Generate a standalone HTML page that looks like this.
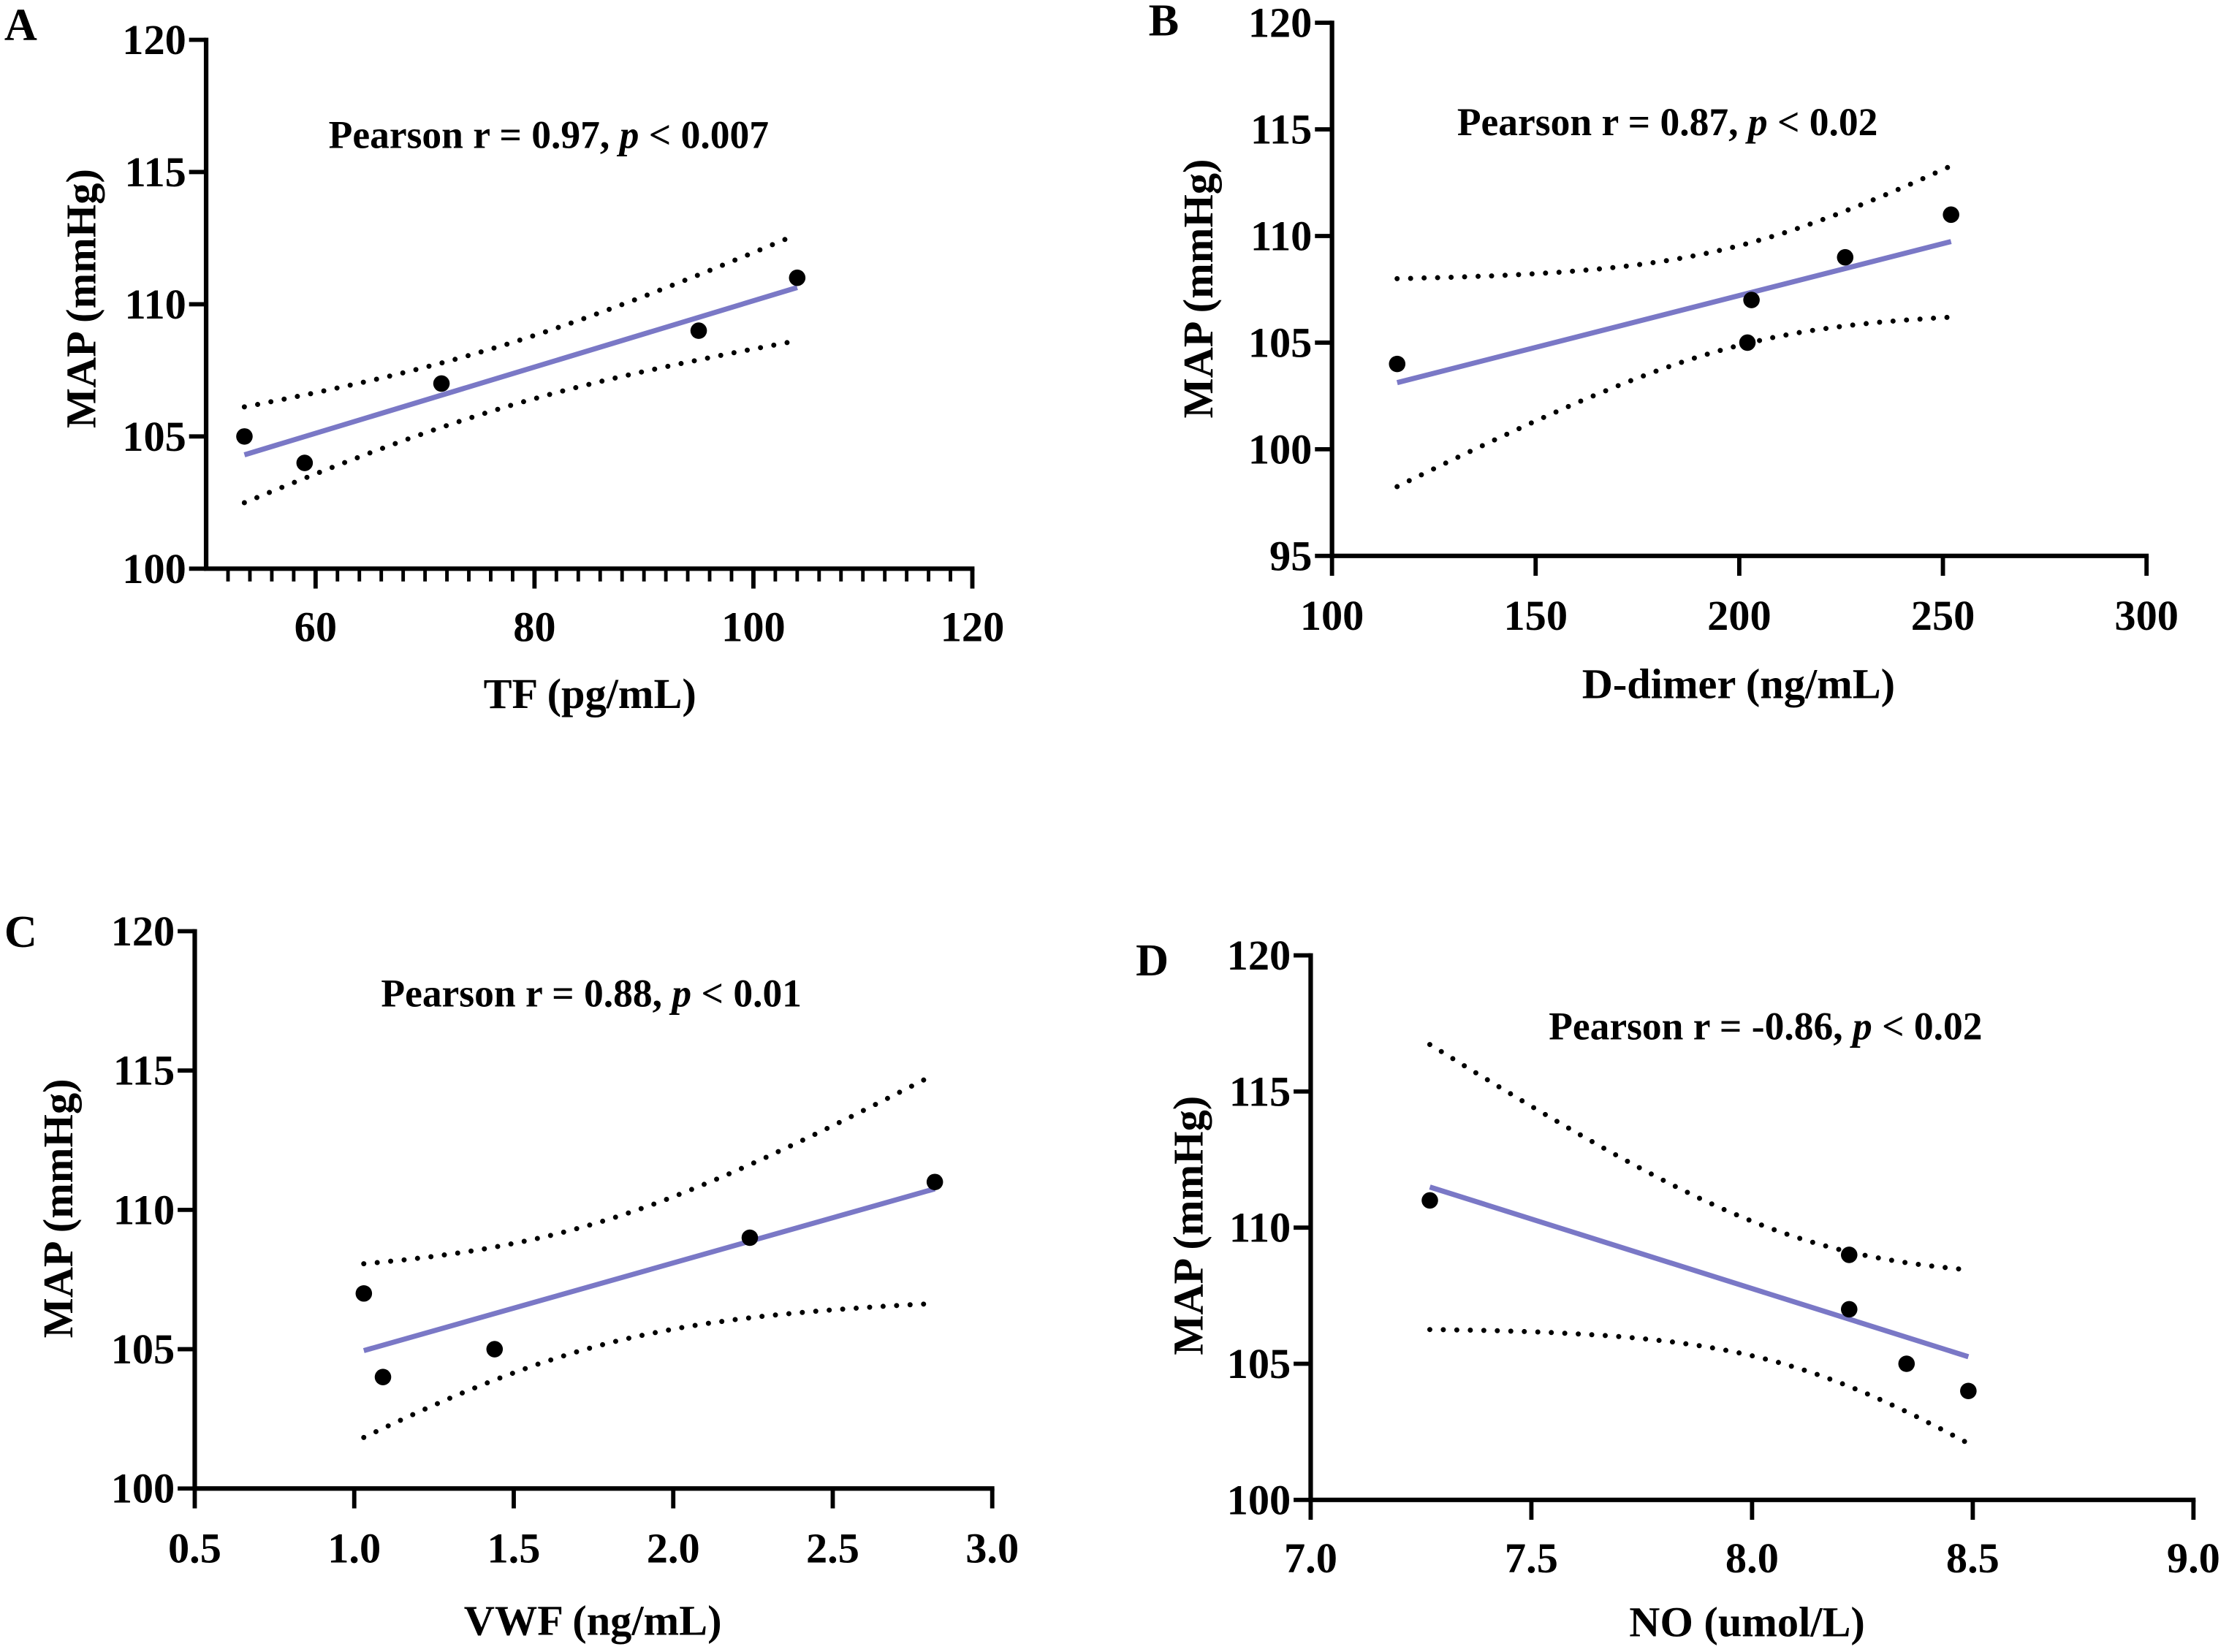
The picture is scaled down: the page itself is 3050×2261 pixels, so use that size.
<!DOCTYPE html>
<html><head><meta charset="utf-8"><style>
html,body{margin:0;padding:0;background:#fff;}
svg{display:block;}
text{font-family:"Liberation Serif",serif;font-weight:bold;fill:#000;}
</style></head><body>
<svg id="fig" width="3050" height="2261" viewBox="0 0 1568 1162" preserveAspectRatio="none" xmlns="http://www.w3.org/2000/svg"></svg>
<script>
// Panel A data
const aX=[53.5,59,71.5,95,104];
const aY=[105,104,107,109,111];
const aXTicks=[60,80,100,120];
const aYTicks=[100,105,110,115,120];
// Panel B data
const bX=[116,202,203,226,252];
const bY=[104,105,107,109,111];
const bXTicks=[100,150,200,250,300];
const bYTicks=[95,100,105,110,115,120];
// Panel C data
const cX=[1.03,1.09,1.44,2.24,2.82];
const cY=[107,104,105,109,111];
const cXTicks=[0.5,1.0,1.5,2.0,2.5,3.0];
const cYTicks=[100,105,110,115,120];
// Panel D data
const dX=[7.27,8.22,8.22,8.35,8.49];
const dY=[111,109,107,105,104];
const dXTicks=[7.0,7.5,8.0,8.5,9.0];
const dYTicks=[100,105,110,115,120];

const NS="http://www.w3.org/2000/svg";
const svg=document.getElementById('fig');
function mk(tag,attrs,parent,txt){const e=document.createElementNS(NS,tag);for(const k in attrs)e.setAttribute(k,attrs[k]);if(txt!==undefined)e.textContent=txt;(parent||svg).appendChild(e);return e;}

const panels=[
 {id:'a',letter:'A',lx:3,ly:28,X:aX,Y:aY,xt:aXTicks,yt:aYTicks,xd:[50,120],yd:[100,120],px:[145,684],py:[400,28],
  minor:2,dec:0,xtitle:'TF (pg/mL)',xtx:415,xty:498,ytx:67,yty:210,ann:['Pearson r = 0.97, ','p',' < 0.007'],ax:386,ay:104,xly:451},
 {id:'b',letter:'B',lx:808,ly:25,X:bX,Y:bY,xt:bXTicks,yt:bYTicks,xd:[100,300],yd:[95,120],px:[937,1510],py:[391,16],
  minor:0,dec:0,xtitle:'D-dimer (ng/mL)',xtx:1223,xty:491,ytx:853,yty:203,ann:['Pearson r = 0.87, ','p',' < 0.02'],ax:1173,ay:95,xly:443},
 {id:'c',letter:'C',lx:3,ly:666,X:cX,Y:cY,xt:cXTicks,yt:cYTicks,xd:[0.5,3.0],yd:[100,120],px:[137,698],py:[1047,655],
  minor:0,dec:1,xtitle:'VWF (ng/mL)',xtx:417,xty:1150,ytx:51,yty:850,ann:['Pearson r = 0.88, ','p',' < 0.01'],ax:416,ay:708,xly:1099},
 {id:'d',letter:'D',lx:799,ly:686,X:dX,Y:dY,xt:dXTicks,yt:dYTicks,xd:[7.0,9.0],yd:[100,120],px:[922,1543],py:[1055,672],
  minor:0,dec:1,xtitle:'NO (umol/L)',xtx:1229,xty:1151,ytx:846,yty:862,ann:['Pearson r = -0.86, ','p',' < 0.02'],ax:1242,ay:731,xly:1106}
];

panels.forEach(p=>{
  const g=mk('g',{});
  
  
  const sx=v=>p.px[0]+(v-p.xd[0])/(p.xd[1]-p.xd[0])*(p.px[1]-p.px[0]);
  const sy=v=>p.py[0]+(v-p.yd[0])/(p.yd[1]-p.yd[0])*(p.py[1]-p.py[0]);
  const L=mk('text',{x:p.lx,y:p.ly,'font-size':32},g,p.letter);
  
  
  const ax=mk('g',{},g);
  
  
  mk('path',{d:`M${p.px[0]},${p.py[1]-1.5}V${p.py[0]}H${p.px[1]+1.5}`,fill:'none',stroke:'#000','stroke-width':3.2},ax);
  p.yt.forEach(v=>{
    mk('line',{x1:p.px[0]-12,x2:p.px[0],y1:sy(v),y2:sy(v),stroke:'#000','stroke-width':3},ax);
    const t=mk('text',{x:p.px[0]-14,y:sy(v)+10,'font-size':30,'text-anchor':'end'},ax,String(v));
    
    
  });
  p.xt.forEach(v=>{
    mk('line',{x1:sx(v),x2:sx(v),y1:p.py[0],y2:p.py[0]+14,stroke:'#000','stroke-width':3},ax);
    const t=mk('text',{x:sx(v),y:p.xly,'font-size':30,'text-anchor':'middle'},ax,v.toFixed(p.dec));
    
    
  });
  if(p.minor){
    for(let v=p.xd[0]+p.minor;v<=p.xd[1];v+=p.minor){
      if(p.xt.includes(v))continue;
      mk('line',{x1:sx(v),x2:sx(v),y1:p.py[0],y2:p.py[0]+9,stroke:'#000','stroke-width':2.5},ax);
    }
  }
  const xt=mk('text',{x:p.xtx,y:p.xty,'font-size':30,'text-anchor':'middle'},g,p.xtitle);
  
  
  const yt=mk('text',{x:0,y:0,'font-size':30,'text-anchor':'middle',transform:`translate(${p.ytx},${p.yty}) rotate(-90)`},g,'MAP (mmHg)');
  
  
  const an=mk('text',{x:p.ax,y:p.ay,'font-size':27.5,'text-anchor':'middle'},g);
  
  
  mk('tspan',{},an,p.ann[0]);mk('tspan',{'font-style':'italic'},an,p.ann[1]);mk('tspan',{},an,p.ann[2]);
  const n=p.X.length,mx=p.X.reduce((a,b)=>a+b)/n,my=p.Y.reduce((a,b)=>a+b)/n;
  let sxx=0,sxy=0,syy=0;
  for(let i=0;i<n;i++){sxx+=(p.X[i]-mx)**2;sxy+=(p.X[i]-mx)*(p.Y[i]-my);syy+=(p.Y[i]-my)**2;}
  const b=sxy/sxx,a0=my-b*mx,s=Math.sqrt(Math.max(syy-sxy*sxy/sxx,0)/(n-2)),t=3.182;
  const x0=Math.min(...p.X),x1=Math.max(...p.X);
  let up=[],lo=[];
  for(let k=0;k<=40;k++){const x=x0+(x1-x0)*k/40;const e=t*s*Math.sqrt(1/n+(x-mx)**2/sxx);const f=a0+b*x;
    up.push(sx(x).toFixed(1)+','+sy(f+e).toFixed(1));lo.push(sx(x).toFixed(1)+','+sy(f-e).toFixed(1));}
  const u=mk('polyline',{points:up.join(' '),fill:'none',stroke:'#000','stroke-width':3.6,'stroke-dasharray':'0 9.5','stroke-linecap':'round'},g);
  
  
  const l=mk('polyline',{points:lo.join(' '),fill:'none',stroke:'#000','stroke-width':3.6,'stroke-dasharray':'0 9.5','stroke-linecap':'round'},g);
  
  
  const rl=mk('line',{x1:sx(x0),y1:sy(a0+b*x0),x2:sx(x1),y2:sy(a0+b*x1),stroke:'#7a78c6','stroke-width':3.6},g);
  
  
  for(let i=0;i<n;i++){
    const c=mk('circle',{cx:sx(p.X[i]),cy:sy(p.Y[i]),r:5.8,fill:'#000'},g);
    
    
  }
});
</script>
</body></html>
